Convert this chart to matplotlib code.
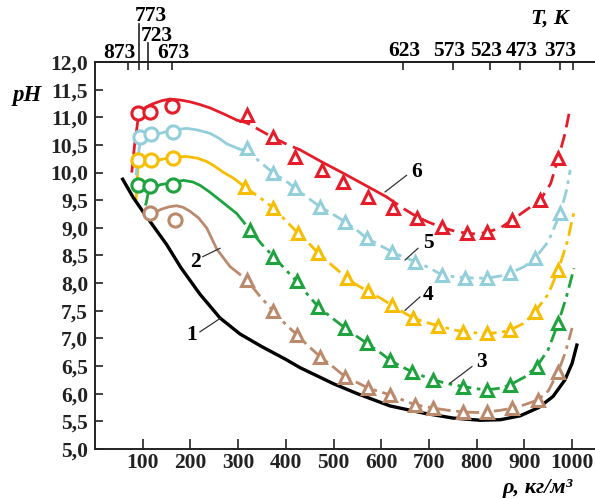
import matplotlib
matplotlib.use('Agg')
import matplotlib.pyplot as plt
from matplotlib.ticker import FuncFormatter
from matplotlib.transforms import blended_transform_factory

# ---- data ----
# temperature scale on the top axis (position in density units)
T_labels = ['873', '773', '723', '673', '623', '573', '523', '473', '373']
T_rho = [68.5, 92, 110.5, 161, 646, 751, 828, 890, 975]
T_extra_tick = 1001

# curve 1 (black, solid)
x1 = [58, 80, 100, 120, 150, 180, 220, 262, 304, 350, 400, 430, 500, 550, 618, 688, 750, 807,
      850, 891, 930, 960, 985, 1000, 1010]
y1 = [9.88, 9.55, 9.30, 9.06, 8.70, 8.28, 7.80, 7.37, 7.08, 6.85, 6.62, 6.47, 6.18, 6.00, 5.78,
      5.65, 5.56, 5.52, 5.53, 5.60, 5.75, 5.95, 6.25, 6.55, 6.88]

# curve 2 (brown)
x2 = [125, 140, 155, 171, 185, 199, 217, 234, 255, 283, 318, 345, 374, 400, 423, 445, 472, 500,
      524, 550, 573, 600, 618, 650, 671, 709, 740, 772, 800, 821, 850, 874, 900, 929, 950, 971,
      986, 1000]
y2 = [9.28, 9.34, 9.38, 9.40, 9.37, 9.30, 9.18, 9.00, 8.62, 8.30, 8.06, 7.77, 7.49, 7.25, 7.07,
      6.88, 6.67, 6.48, 6.31, 6.20, 6.10, 6.03, 5.98, 5.87, 5.80, 5.74, 5.70, 5.67, 5.66, 5.67,
      5.70, 5.74, 5.80, 5.89, 6.05, 6.40, 6.75, 7.19]
tri_x2 = [318, 374, 423, 472, 524, 573, 618, 671, 709, 772, 821, 874, 929, 971]
tri_y2 = [8.06, 7.49, 7.07, 6.67, 6.31, 6.10, 5.98, 5.80, 5.74, 5.67, 5.67, 5.74, 5.89, 6.40]
circ_x2 = [115, 168]
circ_y2 = [9.27, 9.15]

# curve 3 (green)
x3 = [125, 136, 150, 164, 185, 205, 220, 240, 262, 297, 325, 350, 374, 400, 423, 445, 468, 500,
      524, 550, 570, 600, 618, 640, 664, 690, 709, 740, 772, 800, 821, 850, 870, 900, 926, 950,
      971, 988, 1004]
y3 = [9.72, 9.78, 9.80, 9.82, 9.86, 9.83, 9.77, 9.65, 9.50, 9.26, 8.96, 8.70, 8.48, 8.24, 8.03,
      7.80, 7.57, 7.35, 7.19, 7.03, 6.91, 6.73, 6.61, 6.50, 6.40, 6.31, 6.25, 6.18, 6.13, 6.09,
      6.07, 6.10, 6.16, 6.30, 6.49, 6.80, 7.28, 7.75, 8.27]
tri_x3 = [325, 374, 423, 468, 524, 570, 618, 664, 709, 772, 821, 870, 926, 971]
tri_y3 = [8.96, 8.48, 8.03, 7.57, 7.19, 6.91, 6.61, 6.40, 6.25, 6.13, 6.07, 6.16, 6.49, 7.28]
circ_x3 = [90, 115, 164]
circ_y3 = [9.77, 9.75, 9.77]
branch_x3 = [112, 108, 104]
branch_y3 = [9.65, 9.48, 9.35]

# curve 4 (yellow)
x4 = [125, 140, 164, 192, 215, 234, 250, 268, 290, 314, 345, 374, 400, 426, 445, 468, 500, 528,
      550, 573, 600, 622, 645, 667, 690, 719, 745, 772, 800, 821, 850, 870, 900, 922, 950, 971,
      990, 1004]
y4 = [10.20, 10.24, 10.28, 10.29, 10.26, 10.20, 10.12, 10.01, 9.90, 9.74, 9.55, 9.36, 9.13, 8.90,
      8.75, 8.54, 8.30, 8.09, 7.96, 7.85, 7.72, 7.60, 7.48, 7.37, 7.30, 7.23, 7.17, 7.12, 7.10,
      7.09, 7.11, 7.15, 7.28, 7.48, 7.80, 8.24, 8.75, 9.29]
tri_x4 = [314, 374, 426, 468, 528, 573, 622, 667, 719, 772, 821, 870, 922, 971]
tri_y4 = [9.74, 9.36, 8.90, 8.54, 8.09, 7.85, 7.60, 7.37, 7.23, 7.12, 7.09, 7.15, 7.48, 8.24]
circ_x4 = [90, 118, 164]
circ_y4 = [10.23, 10.23, 10.26]
branch_x4 = [90, 88, 86]
branch_y4 = [10.10, 9.80, 9.50]

# curve 5 (light blue)
x5 = [125, 145, 164, 192, 215, 241, 260, 276, 304, 318, 345, 374, 400, 419, 445, 472, 500, 524,
      550, 570, 600, 622, 645, 671, 700, 727, 750, 776, 800, 821, 850, 870, 900, 922, 950, 975,
      989, 996]
y5 = [10.68, 10.73, 10.77, 10.80, 10.77, 10.71, 10.62, 10.52, 10.42, 10.40, 10.20, 9.99, 9.85,
      9.72, 9.55, 9.38, 9.24, 9.11, 8.95, 8.81, 8.67, 8.57, 8.48, 8.39, 8.28, 8.15, 8.12, 8.10,
      8.09, 8.09, 8.13, 8.18, 8.30, 8.45, 8.75, 9.26, 9.70, 10.05]
tri_x5 = [318, 374, 419, 472, 524, 570, 622, 671, 727, 776, 821, 870, 922, 975]
tri_y5 = [10.45, 9.99, 9.72, 9.38, 9.11, 8.81, 8.57, 8.39, 8.15, 8.10, 8.09, 8.18, 8.45, 9.26]
circ_x5 = [94, 118, 164]
circ_y5 = [10.65, 10.70, 10.74]
branch_x5 = [94, 90, 86]
branch_y5 = [10.52, 10.25, 9.95]

# curve 6 (red)
x6 = [100, 120, 140, 157, 180, 199, 220, 241, 270, 297, 318, 345, 374, 400, 430, 476, 520, 573,
      611, 650, 675, 700, 727, 750, 780, 800, 821, 850, 874, 900, 933, 955, 971, 985, 996]
y6 = [11.15, 11.24, 11.30, 11.33, 11.31, 11.28, 11.23, 11.17, 11.06, 10.95, 10.90, 10.77, 10.63,
      10.52, 10.41, 10.19, 9.99, 9.74, 9.56, 9.33, 9.20, 9.10, 9.01, 8.95, 8.90, 8.89, 8.92,
      9.00, 9.14, 9.30, 9.50, 9.80, 10.26, 10.70, 11.17]
tri_x6 = [318, 374, 419, 476, 520, 573, 625, 675, 727, 780, 821, 874, 933, 971]
tri_y6 = [11.04, 10.65, 10.29, 10.05, 9.83, 9.56, 9.36, 9.18, 9.01, 8.90, 8.92, 9.14, 9.50, 10.26]
circ_x6 = [90, 115, 161]
circ_y6 = [11.08, 11.10, 11.20]
branch_x6 = [90, 83, 77]
branch_y6 = [10.95, 10.50, 10.00]

# curve number labels: (text x, text y, leader start, leader end)
num_labels = ['1', '2', '3', '4', '5', '6']
num_x = [203, 210, 811, 698, 698, 674]
num_y = [7.06, 8.39, 6.58, 7.78, 8.73, 10.01]
lead_x0 = [220, 226, 790, 681, 677, 653]
lead_y0 = [7.12, 8.48, 6.49, 7.75, 8.63, 9.95]
lead_x1 = [262, 262, 744, 650, 650, 608]
lead_y1 = [7.36, 8.63, 6.19, 7.51, 8.42, 9.65]

# ---- styling ----
plt.rcParams['font.family'] = ['Liberation Serif', 'DejaVu Serif']
plt.rcParams['font.weight'] = 'bold'

RED = '#e51d2a'
BLUE = '#93cfdb'
YELLOW = '#f7bd00'
GREEN = '#1ea33e'
BROWN = '#bb8a6c'

DASH = (0, (5, 2.5))
DASHDOT = (0, (5, 2, 1.3, 2))
FS = 15.5

fig = plt.figure(figsize=(5.95, 4.99), dpi=100)
ax = fig.add_axes([95 / 595, 1 - 449 / 499, 1 - 95 / 595, (449 - 62) / 499])

lw = 2.0


def draw_curve(x, y, color, solid_to, style, tri_x, tri_y, circ_x, circ_y, branch=None):
    ax.plot(x[:solid_to + 1], y[:solid_to + 1], color=color, lw=lw, solid_capstyle='round', zorder=2)
    ax.plot(x[solid_to:], y[solid_to:], color=color, lw=lw, linestyle=style, zorder=2)
    if branch is not None:
        ax.plot(branch[0], branch[1], color=color, lw=lw, linestyle=DASH, zorder=2)
    ax.plot(tri_x, tri_y, linestyle='none', marker='^', markersize=9, mfc='white',
            mec=color, mew=2.2, zorder=4)
    ax.plot(circ_x, circ_y, linestyle='none', marker='o', markersize=9.5, mfc='white',
            mec=color, mew=2.2, zorder=4)


ax.plot(x1, y1, color='black', lw=2.4, zorder=3)
draw_curve(x2, y2, BROWN, 9, DASHDOT, tri_x2, tri_y2, circ_x2, circ_y2)
draw_curve(x3, y3, GREEN, 9, DASHDOT, tri_x3, tri_y3, circ_x3, circ_y3, (branch_x3, branch_y3))
draw_curve(x4, y4, YELLOW, 9, DASHDOT, tri_x4, tri_y4, circ_x4, circ_y4, (branch_x4, branch_y4))
draw_curve(x5, y5, BLUE, 8, DASHDOT, tri_x5, tri_y5, circ_x5, circ_y5, (branch_x5, branch_y5))
# red: solid near the peak, dashed, solid again, then dashed
ax.plot(x6[:10], y6[:10], color=RED, lw=lw, zorder=2)
ax.plot(x6[9:15], y6[9:15], color=RED, lw=lw, linestyle=DASH, zorder=2)
ax.plot(x6[14:19], y6[14:19], color=RED, lw=lw, zorder=2)
ax.plot(x6[18:], y6[18:], color=RED, lw=lw, linestyle=DASH, zorder=2)
ax.plot(branch_x6, branch_y6, color=RED, lw=lw, linestyle=DASH, zorder=2)
ax.plot(tri_x6, tri_y6, linestyle='none', marker='^', markersize=9, mfc='white',
        mec=RED, mew=2.2, zorder=4)
ax.plot(circ_x6, circ_y6, linestyle='none', marker='o', markersize=9.5, mfc='white',
        mec=RED, mew=2.2, zorder=4)

# curve numbers with leader lines
for t, tx, ty, a0, b0, a1, b1 in zip(num_labels, num_x, num_y, lead_x0, lead_y0, lead_x1, lead_y1):
    ax.text(tx, ty, t, fontsize=FS, fontweight='bold', ha='center', va='center', zorder=6)
    ax.plot([a0, a1], [b0, b1], color='#333333', lw=0.9, zorder=5)

# axes
ax.set_xlim(0, 1048)
ax.set_ylim(5, 12)
ax.set_xticks(range(100, 1001, 100))
ax.set_yticks([5 + 0.5 * i for i in range(15)])
ax.yaxis.set_major_formatter(FuncFormatter(lambda v, p: f'{v:.1f}'.replace('.', ',')))
ax.tick_params(axis='both', direction='in', labelsize=FS, width=1.2, colors='#222222')
ax.tick_params(axis='x', length=7, pad=3)
ax.tick_params(axis='y', length=6, pad=5)
for lab in ax.get_xticklabels() + ax.get_yticklabels():
    lab.set_fontweight('bold')
ax.spines['right'].set_visible(False)
for s in ['left', 'bottom', 'top']:
    ax.spines[s].set_linewidth(1.4)
    ax.spines[s].set_color('#222222')

# top temperature axis: ticks pointing in, labels placed by hand as in the figure
sec = ax.secondary_xaxis('top')
sec.set_xticks(T_rho + [T_extra_tick])
sec.set_xticklabels([])
sec.tick_params(direction='in', length=6, width=1.2, colors='#222222')
sec.spines['top'].set_linewidth(1.4)

trans = blended_transform_factory(ax.transData, ax.transAxes)
label_pos = [52, 117, 130, 164, 648, 742, 820, 895, 975]
label_lift = [1.023, 1.118, 1.068, 1.023, 1.028, 1.028, 1.028, 1.028, 1.028]
for lab, lx, ly in zip(T_labels, label_pos, label_lift):
    ax.text(lx, ly, lab, transform=trans, fontsize=FS, fontweight='bold',
            ha='center', va='center')
i773 = T_labels.index('773')
i723 = T_labels.index('723')
ax.plot([T_rho[i773]] * 2, [1.0, 1.097], transform=trans, color='#222222', lw=1.2, clip_on=False)
ax.plot([T_rho[i723]] * 2, [1.0, 1.05], transform=trans, color='#222222', lw=1.2, clip_on=False)

fig.text(550 / 595, 1 - 19 / 499, 'T, K', fontsize=FS + 0.5, fontweight='bold', style='italic',
         ha='center', va='center')
fig.text(27 / 595, 1 - 95 / 499, 'pH', fontsize=FS + 1, fontweight='bold', style='italic',
         ha='center', va='center')
fig.text(538 / 595, 1 - 488 / 499, 'ρ, кг/м³', fontsize=FS + 0.5, fontweight='bold', style='italic',
         ha='center', va='center')

fig.savefig('out.png', dpi=100)
